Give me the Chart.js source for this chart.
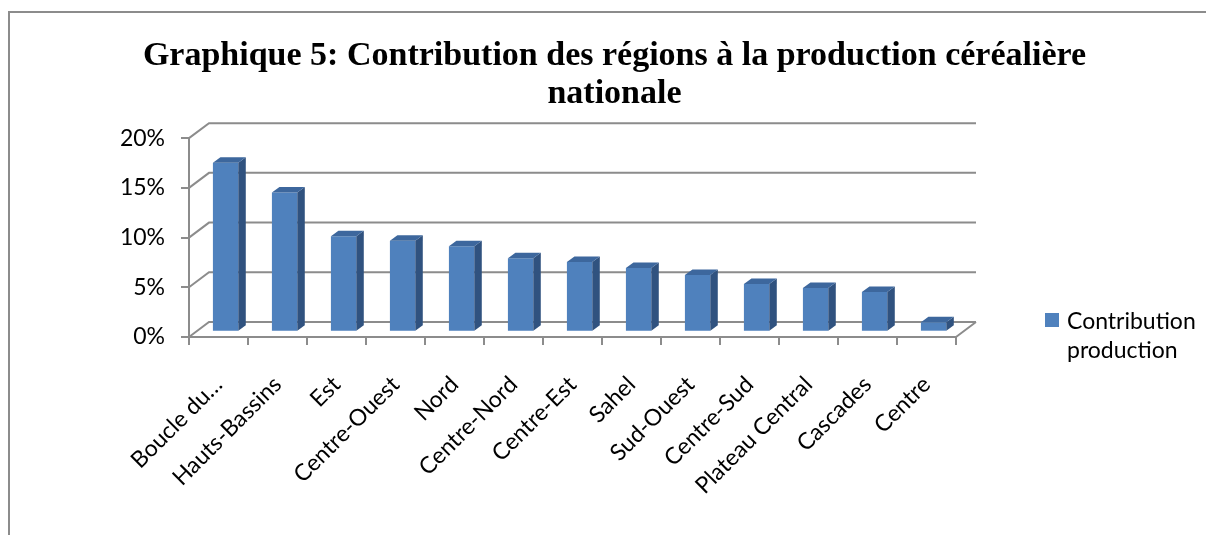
<!DOCTYPE html>
<html>
<head>
<meta charset="utf-8">
<script src="https://cdn.jsdelivr.net/npm/chart.js@4.4.0/dist/chart.umd.min.js"></script>
<style>
  html, body { margin: 0; padding: 0; background: #fff; }
  #wrap { position: relative; width: 1206px; height: 535px; overflow: hidden; background: #fff; }
  #frame { position: absolute; left: 8px; top: 11px; width: 1400px; height: 700px;
           border-top: 2px solid #8c8c8c; border-left: 2px solid #8c8c8c; box-sizing: border-box; }
  #c { position: absolute; left: 0; top: 0; }
  #legend { position: absolute; left: 1045px; top: 306px; font-family: Lato, sans-serif;
            font-size: 23px; line-height: 29px; color: #000; }
  #legend .sw { position: absolute; left: 0; top: 7px; width: 14px; height: 14px; background: #4f81bd; }
  #legend .tx { position: absolute; left: 22px; top: 0; width: 140px; }
</style>
</head>
<body>
<div id="wrap">
  <div id="frame"></div>
  <canvas id="c" width="1206" height="535"></canvas>
  <div id="legend"><div class="sw"></div><div class="tx">Contribution production</div></div>
</div>
<script>
const categories = ['Boucle du…', 'Hauts-Bassins', 'Est', 'Centre-Ouest', 'Nord', 'Centre-Nord',
  'Centre-Est', 'Sahel', 'Sud-Ouest', 'Centre-Sud', 'Plateau Central', 'Cascades', 'Centre'];
const contribution = [17.0, 14.0, 9.6, 9.15, 8.6, 7.4, 7.0, 6.4, 5.7, 4.8, 4.4, 4.0, 0.95];
const yTicks = [0, 5, 10, 15, 20];
const seriesName = 'Contribution production';
const titleLines = ['Graphique 5: Contribution des régions à la production céréalière', 'nationale'];

const GRID = '#8c8c8c';
const BACK = { x: 20, y: -15 };     // depth of back wall
const BAR_POS = { x: 7.1, y: -5.3 }; // depth position of bar front faces
const BAR_DEPTH = { x: 7.5, y: -5.5 };

const box3d = {
  id: 'box3d',
  beforeDatasetsDraw(chart) {
    const { ctx, chartArea: a, scales } = chart;
    const y = scales.y;
    ctx.save();
    ctx.strokeStyle = GRID;
    ctx.lineWidth = 2;
    ctx.beginPath();
    yTicks.forEach(v => {
      const py = y.getPixelForValue(v);
      ctx.moveTo(a.left, py);
      ctx.lineTo(a.left + BACK.x, py + BACK.y);
      ctx.lineTo(a.right + BACK.x, py + BACK.y);
    });
    const y0 = y.getPixelForValue(0);
    ctx.moveTo(a.right, y0);
    ctx.lineTo(a.right + BACK.x, y0 + BACK.y);
    ctx.stroke();
    ctx.restore();
    ctx.save();
    ctx.translate(BAR_POS.x, BAR_POS.y);
  },
  afterDatasetsDraw(chart) {
    const { ctx } = chart;
    const meta = chart.getDatasetMeta(0);
    meta.data.forEach(bar => {
      const p = bar.getProps(['x', 'y', 'base', 'width'], true);
      const l = p.x - p.width / 2, r = p.x + p.width / 2;
      const t = Math.min(p.y, p.base), b = Math.max(p.y, p.base);
      ctx.fillStyle = '#30527f';
      ctx.beginPath();
      ctx.moveTo(r, t);
      ctx.lineTo(r + BAR_DEPTH.x, t + BAR_DEPTH.y);
      ctx.lineTo(r + BAR_DEPTH.x, b + BAR_DEPTH.y);
      ctx.lineTo(r, b);
      ctx.closePath();
      ctx.fill();
      ctx.fillStyle = '#3d679d';
      ctx.beginPath();
      ctx.moveTo(l, t);
      ctx.lineTo(l + BAR_DEPTH.x, t + BAR_DEPTH.y);
      ctx.lineTo(r + BAR_DEPTH.x, t + BAR_DEPTH.y);
      ctx.lineTo(r, t);
      ctx.closePath();
      ctx.fill();
    });
    ctx.restore();
  }
};

new Chart(document.getElementById('c'), {
  type: 'bar',
  data: {
    labels: categories,
    datasets: [{
      label: seriesName,
      data: contribution,
      backgroundColor: '#4f81bd',
      borderWidth: 0,
      barPercentage: 0.43,
      categoryPercentage: 1.0,
      clip: false
    }]
  },
  options: {
    responsive: false,
    animation: false,
    events: [],
    layout: { padding: { left: 23, right: 0, top: 0, bottom: 0 } },
    plugins: {
      legend: { display: false },
      tooltip: { enabled: false },
      title: {
        display: true,
        text: titleLines,
        color: '#000',
        font: { family: "'Liberation Serif', serif", weight: 'bold', size: 34, lineHeight: 1.12 },
        padding: { top: 37, bottom: 25 }
      }
    },
    scales: {
      x: {
        offset: true,
        grid: { display: true, drawOnChartArea: false, drawTicks: true, tickLength: 8, color: GRID, lineWidth: 2, offset: true },
        border: { display: true, color: GRID, width: 2 },
        ticks: {
          autoSkip: false, minRotation: 45, maxRotation: 45, padding: 26, color: '#000',
          font: { family: 'Lato, sans-serif', size: 23 }
        },
        afterFit(s) { s.height = 198; }
      },
      y: {
        min: 0, max: 20,
        afterBuildTicks(s) { s.ticks = yTicks.map(v => ({ value: v })); },
        grid: { display: true, drawOnChartArea: false, drawTicks: true, tickLength: 8, color: GRID, lineWidth: 2 },
        border: { display: true, color: GRID, width: 2 },
        ticks: {
          padding: 16, color: '#000',
          font: { family: 'Lato, sans-serif', size: 23 },
          callback: v => v + '%'
        },
        afterFit(s) { s.width = 166; }
      },
      yR: {
        position: 'right',
        display: true,
        grid: { display: false },
        border: { display: false },
        ticks: { display: false },
        afterFit(s) { s.width = 250; }
      }
    }
  },
  plugins: [box3d]
});
</script>
</body>
</html>
